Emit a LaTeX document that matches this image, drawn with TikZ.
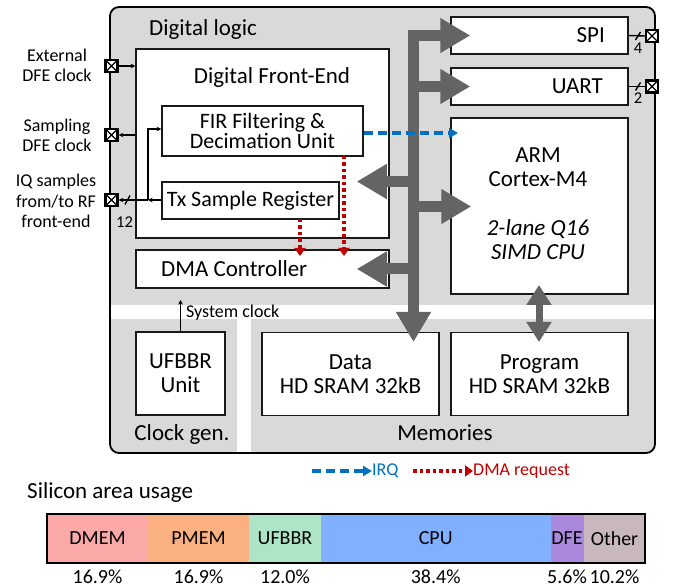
\documentclass[tikz,border=0pt]{standalone}
\usepackage{fontspec}
\setmainfont{Carlito}
\usetikzlibrary{arrows.meta}
\definecolor{lg}{RGB}{217,217,217}
\definecolor{busc}{RGB}{100,100,100}
\definecolor{irqc}{RGB}{0,112,192}
\definecolor{dmac}{RGB}{192,0,0}
\definecolor{cdm}{RGB}{250,168,168}
\definecolor{cpm}{RGB}{250,176,128}
\definecolor{cuf}{RGB}{172,230,198}
\definecolor{ccpu}{RGB}{128,176,255}
\definecolor{cdfe}{RGB}{170,136,220}
\definecolor{coth}{RGB}{200,184,190}
\newcommand\szbig{\fontsize{23}{24}\selectfont}
\newcommand\szfir{\fontsize{22}{20}\selectfont}
\newcommand\szmid{\fontsize{18}{20.5}\selectfont}
\newcommand\szsm{\fontsize{18}{19}\selectfont}
\newcommand\sztiny{\fontsize{16.5}{17}\selectfont}
\newcommand\szbar{\fontsize{20}{22}\selectfont}
\begin{document}
\begin{tikzpicture}[x=1pt,y=-1pt,
  box/.style={draw=black!90, line width=1.5pt, fill=white, inner sep=0pt, align=center, font=\szbig},
  lbl/.style={inner sep=0pt, align=center, font=\szbig},
  port/.style={draw, fill=white, line width=2.4pt, minimum size=12pt, inner sep=0pt,
    path picture={\draw[line width=1.3pt] (path picture bounding box.south west) -- (path picture bounding box.north east)
      (path picture bounding box.north west) -- (path picture bounding box.south east);}},
  sig/.style={line width=1.4pt, -{Stealth[length=4.5pt,width=4.5pt]}},
  plain/.style={line width=1.4pt},
  bus/.style={draw=busc, line width=11pt, -{Triangle[width=33pt,length=30pt]}},
  irq/.style={draw=irqc, line width=3.5pt, dash pattern=on 9pt off 5pt, -{Triangle[width=10pt,length=9pt]}},
  dmareq/.style={draw=dmac, line width=3.5pt, dash pattern=on 3.5pt off 3pt, -{Triangle[width=11pt,length=8pt]}}
]
\useasboundingbox (0,0) rectangle (673,588);
% background regions
\fill[lg, rounded corners=9pt] (110,7) rectangle (655,453);
\fill[white] (110,305) rectangle (655,319);
\fill[white] (237,319) rectangle (251,453);
\draw[line width=1.8pt, rounded corners=9pt] (110,7) rectangle (655,453);
\node[lbl] (dl) at (203,29) {Digital logic};
\node[lbl] (cg) at (182,434) {Clock gen.};
\node[lbl] (mem) at (445,433) {Memories};

% boxes
\node[box, minimum width=253pt, minimum height=189pt] (dfe) at (262.5,143.5) {};
\node[lbl] (dfel) at (272,77) {Digital Front-End};
\node[box, minimum width=201pt, minimum height=50pt, font=\szfir] (fir) at (262.5,131) {FIR Filtering \&\\Decimation Unit};
\node[box, minimum width=177pt, minimum height=37pt, font=\szfir] (tx) at (250.5,200.5) {Tx Sample Register};
\node[box, minimum width=253pt, minimum height=38pt] (dma) at (262.5,269) {};
\node[lbl, anchor=west] (dmal) at (161,269) {DMA Controller};
\node[box, minimum width=177pt, minimum height=37pt] (spi) at (539.5,35.5) {};
\node[lbl, anchor=east] (spil) at (605,35.5) {SPI};
\node[box, minimum width=177pt, minimum height=37pt] (uart) at (539.5,86.5) {};
\node[lbl, anchor=east] (uartl) at (603,86.5) {UART};
\node[box, minimum width=177pt, minimum height=176pt] (arm) at (539.5,206) {};
\node[lbl] (arml) at (538,167.5) {ARM\\Cortex-M4};
\node[lbl, font=\szbig\itshape] (armi) at (538,240) {2-lane Q16\\SIMD CPU};
\node[box, minimum width=89pt, minimum height=83pt] (ufbbr) at (180.5,373.5) {UFBBR\\Unit};
\node[box, minimum width=177pt, minimum height=83pt] (data) at (350.5,374) {Data\\HD SRAM 32kB};
\node[box, minimum width=177pt, minimum height=83pt] (prog) at (539.5,374) {Program\\HD SRAM 32kB};

% ports
\node[port] (pe) at (111.5,66) {};
\node[port] (ps) at (111.5,135) {};
\node[port] (pq) at (111.5,200) {};
\node[port] (pspi) at (652,36) {};
\node[port] (puart) at (652,86.5) {};
\node[lbl, font=\szmid] (le) at (57,65.5) {External\\DFE clock};
\node[lbl, font=\szmid] (ls) at (57,135.5) {Sampling\\DFE clock};
\node[lbl, font=\szmid] (lq) at (56,201) {IQ samples\\from/to RF\\front-end};

% signal lines
\draw[sig] (pe.east) -- (dfe.west |- pe);
\draw[sig] (dfe.west |- ps) -- (ps.east);
\coordinate (j) at (148,200);
\draw[sig] (tx.west |- j) -- (j);
\draw[sig] (j) -- (pq.east);
\draw[sig] (j) |- ([yshift=2pt]fir.west);
\draw[plain] (125,204.5) -- (130,195.5);
\node[lbl, font=\sztiny] (n12) at (124.5,222) {12};
\draw[plain] (spi.east) -- (pspi.west);
\draw[plain] (635.5,40) -- (640.5,32);
\node[lbl, font=\sztiny] (n4) at (638,48) {4};
\draw[plain] (uart.east) -- (puart.west);
\draw[plain] (635.5,90.5) -- (640.5,82.5);
\node[lbl, font=\sztiny] (n2) at (638,98.5) {2};

% system clock
\draw[sig] (ufbbr.north) -- (180.5,300);
\node[lbl, font=\szsm, anchor=west] (sc) at (186,313) {System clock};

% bus
\coordinate (bt) at (413.5,30);
\draw[bus] (bt) -- (413.5,342);
\draw[bus] (408,35.5) -- ([xshift=20pt]spi.west);
\draw[bus] (413.5,86.5) -- ([xshift=20pt]uart.west);
\draw[bus] (413.5,181.5) -- ([xshift=-33pt]dfe.east |- 0,181.5);
\draw[bus] (413.5,206.5) -- ([xshift=21pt]arm.west |- 0,206.5);
\draw[bus] (413.5,269) -- ([xshift=-33pt]dma.east);
\draw[draw=busc, line width=7pt, {Triangle[width=24pt,length=20pt]}-{Triangle[width=24pt,length=20pt]}] (539,285) -- (539,342);

% IRQ and DMA requests
\draw[irq] (fir.east |- 0,133) -- (458,133);
\draw[dmareq] (344,156) -- (344,256);
\draw[dmareq] (300,219) -- (300,256);

% legend
\draw[irq] (312,471) -- (372,471);
\node[lbl, font=\szmid, text=irqc, anchor=west] (lirq) at (372,471) {IRQ};
\draw[dmareq] (413,471) -- (473,471);
\node[lbl, font=\szmid, text=dmac, anchor=west] (ldma) at (473,471) {DMA request};

% silicon area bar
\node[lbl, anchor=west] (sil) at (27,492) {Silicon area usage};
\fill[cdm] (47,514) rectangle (148,563);
\fill[cpm] (148,514) rectangle (249,563);
\fill[cuf] (249,514) rectangle (321,563);
\fill[ccpu] (321,514) rectangle (550.5,563);
\fill[cdfe] (550.5,514) rectangle (584,563);
\fill[coth] (584,514) rectangle (645,563);
\draw[line width=1.6pt] (47,514) rectangle (645,563);
\node[lbl, font=\szbar] at (97.5,538.5) {DMEM};
\node[lbl, font=\szbar] at (198.5,538.5) {PMEM};
\node[lbl, font=\szbar] at (285,538.5) {UFBBR};
\node[lbl, font=\szbar] at (435.7,538.5) {CPU};
\node[lbl, font=\szbar] at (567,538.5) {DFE};
\node[lbl, font=\szbar] at (614.5,538.5) {Other};
\node[lbl, font=\szbar] at (97.5,577) {16.9\%};
\node[lbl, font=\szbar] at (198.5,577) {16.9\%};
\node[lbl, font=\szbar] at (285,577) {12.0\%};
\node[lbl, font=\szbar] at (435.7,577) {38.4\%};
\node[lbl, font=\szbar] at (567,577) {5.6\%};
\node[lbl, font=\szbar] at (614.5,577) {10.2\%};
\end{tikzpicture}
\end{document}
